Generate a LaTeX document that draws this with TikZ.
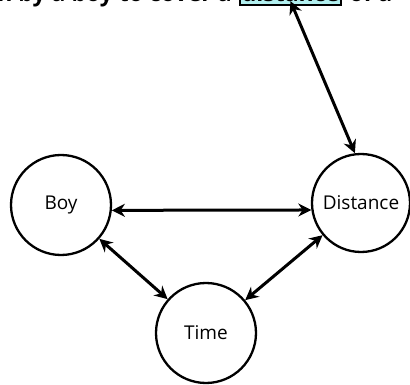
\documentclass[tikz,border=0pt]{standalone}
\usepackage{fontspec}
\setmainfont{Open Sans}
\usetikzlibrary{arrows.meta}
\definecolor{hlcyan}{RGB}{178,240,240}
\begin{document}
\begin{tikzpicture}[x=1pt,y=-1pt,
  entity/.style={circle,draw,line width=2.3pt,minimum size=100pt,inner sep=0pt,font=\fontsize{19}{22}\selectfont},
  link/.style={line width=3pt,{Stealth[length=13pt,width=13pt]}-{Stealth[length=13pt,width=13pt]}},
  toptext/.style={inner sep=0pt,font=\fontsize{23}{27}\selectfont\bfseries}]
\useasboundingbox (0,0) rectangle (410,385);
\clip (0,0) rectangle (410,385);
\node[entity] (boy) at (61,205) {Boy};
\node[entity,minimum size=98pt] (dist) at (361,203) {Distance};
\node[entity] (time) at (206,333) {Time};
\node[toptext,draw,line width=1.8pt,fill=hlcyan,anchor=base,inner xsep=2pt,inner ysep=3pt,minimum width=101pt] (hl) at (290.5,2) {distance};
\node[toptext,anchor=base east] (pre) at ([xshift=-7pt]hl.base west) {Time taken by a boy to cover a};
\node[toptext,anchor=base west] (post) at ([xshift=7pt]hl.base east) {of a};
\draw[link] (boy.-6) -- (dist.188);
\draw[link] (boy) -- (time);
\draw[link] (time) -- (dist);
\draw[link] ([yshift=5pt]hl.south) -- (dist.97);
\end{tikzpicture}
\end{document}
